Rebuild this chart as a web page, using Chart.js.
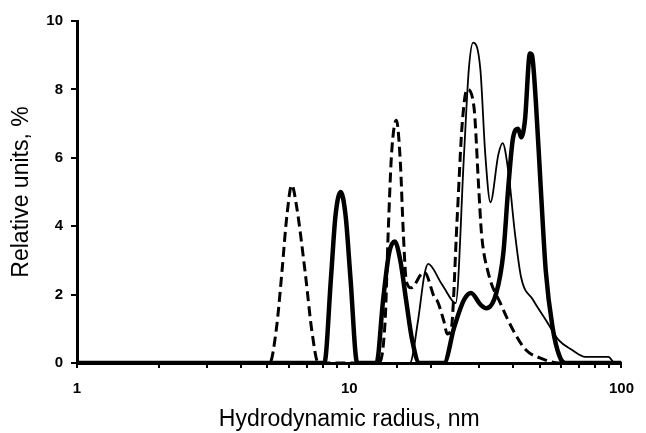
<!DOCTYPE html>
<html>
<head>
<meta charset="utf-8">
<script src="https://cdn.jsdelivr.net/npm/chart.js@4.4.1/dist/chart.umd.min.js"></script>
<style>
  html, body { margin: 0; padding: 0; background: #fff; }
  canvas { display: block; }
</style>
</head>
<body>
<canvas id="dls-chart" width="646" height="433"></canvas>
<script>
// Hydrodynamic radius (nm) and relative units (%)
const dashedR = [1, 5.1, 5.4, 5.65, 5.9, 6.15, 6.4, 6.9, 7.3, 7.7, 12.8, 13.55, 13.9, 14.3, 14.9, 15.4, 15.8, 16.2, 16.9, 18.4, 18.9, 20.6, 21.1, 22.3, 22.9, 23.7, 24.9, 26.0, 27.1, 28.7, 29.9, 30.6, 32.5, 35.9, 40.0, 44.6, 50.1, 59.2, 100];
const dashedVal = [0, 0, 1.0, 2.6, 4.3, 5.2, 4.6, 2.6, 0.9, 0, 0, 1.25, 3.8, 6.1, 7.1, 5.9, 3.8, 2.4, 2.2, 2.6, 2.65, 1.9, 1.8, 1.2, 0.85, 1.0, 4.2, 7.0, 8.0, 7.5, 5.1, 3.8, 2.6, 1.75, 0.96, 0.38, 0.15, 0, 0];

const boldR = [1, 8.1, 8.57, 8.9, 9.3, 9.7, 10.1, 10.7, 12.6, 13.3, 14.0, 14.7, 15.4, 16.2, 17.0, 18.1, 22.3, 24.3, 26.4, 28.0, 30.4, 31.9, 34.7, 36.8, 38.4, 40.0, 41.7, 42.8, 44.2, 46.1, 46.9, 48.5, 50.5, 52.7, 55.8, 59.2, 62.2, 100];
const boldVal = [0, 0, 2.5, 4.3, 5.0, 4.3, 2.5, 0, 0, 1.8, 3.2, 3.55, 3.0, 1.8, 0.7, 0, 0, 1.05, 1.85, 2.05, 1.7, 1.6, 2.05, 3.2, 5.15, 6.6, 6.85, 6.6, 7.1, 9.05, 9.0, 7.6, 5.15, 2.7, 1.05, 0.2, 0, 0];

const thinR = [1, 16.7, 17.9, 18.9, 19.5, 21.7, 22.3, 24.6, 26.4, 27.5, 28.5, 30.3, 31.6, 33.0, 35.3, 36.6, 38.4, 40.6, 42.8, 47.3, 52.8, 58.8, 65.9, 73.6, 89.5, 94.6, 100];
const thinVal = [0, 0, 1.25, 2.6, 2.9, 2.35, 2.2, 1.75, 6.1, 8.6, 9.37, 8.6, 6.1, 4.7, 6.1, 6.43, 5.6, 3.8, 2.5, 1.85, 1.25, 0.67, 0.38, 0.18, 0.18, 0, 0];

const X_LABELS = [1, 10, 100];

Chart.defaults.font.family = "'Liberation Sans', Arial, sans-serif";
Chart.defaults.color = '#000';

function toPoints(rs, vals) {
  return rs.map((r, i) => ({ x: r, y: vals[i] }));
}

function lineSet(rs, vals, width, dash) {
  return {
    data: toPoints(rs, vals),
    borderColor: '#000',
    borderWidth: width,
    borderDash: dash,
    pointRadius: 0,
    cubicInterpolationMode: 'monotone',
    fill: false,
  };
}

new Chart(document.getElementById('dls-chart'), {
  type: 'line',
  data: {
    datasets: [
      lineSet(thinR, thinVal, 1.8, []),
      lineSet(dashedR, dashedVal, 3, [10, 5]),
      lineSet(boldR, boldVal, 4.5, []),
    ],
  },
  options: {
    responsive: false,
    animation: false,
    layout: { padding: { left: 0, right: 16, top: 21, bottom: 0 } },
    plugins: {
      legend: { display: false },
      tooltip: { enabled: false },
    },
    scales: {
      x: {
        type: 'logarithmic',
        min: 1,
        max: 100,
        border: { color: '#000', width: 3 },
        grid: { drawOnChartArea: false, color: '#000', lineWidth: 2, tickLength: 5 },
        ticks: {
          autoSkip: false,
          maxRotation: 0,
          padding: 12,
          font: { size: 15, weight: 'bold' },
          callback: (v) => (X_LABELS.includes(v) ? String(v) : ''),
        },
        title: {
          display: true,
          text: 'Hydrodynamic radius, nm',
          font: { size: 23 },
          padding: { top: 0, bottom: 0 },
        },
        afterFit: (scale) => { scale.height = 70; },
      },
      y: {
        min: 0,
        max: 10,
        border: { color: '#000', width: 3 },
        grid: { drawOnChartArea: false, color: '#000', lineWidth: 2, tickLength: 6 },
        ticks: {
          stepSize: 2,
          padding: 8,
          font: { size: 15, weight: 'bold' },
        },
        title: {
          display: true,
          text: 'Relative units, %',
          font: { size: 23 },
          padding: { top: 8, bottom: 0 },
        },
        afterFit: (scale) => { scale.width = 77; },
      },
    },
  },
});
</script>
</body>
</html>
